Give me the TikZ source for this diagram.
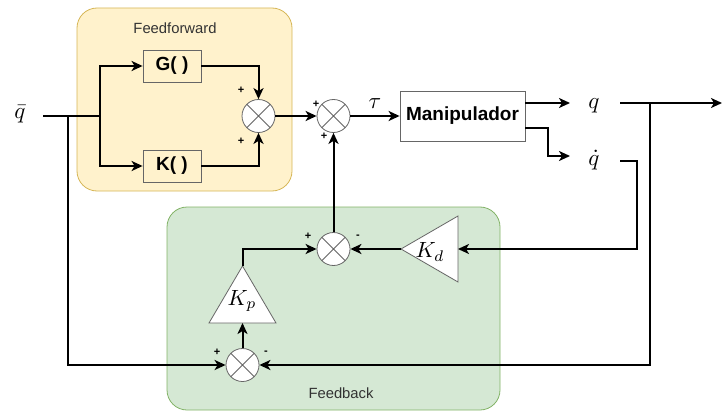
\documentclass[tikz,border=0pt]{standalone}
\usepackage{graphicx}
\usepackage{fontspec}
\setmainfont{Liberation Sans}
\usetikzlibrary{arrows.meta}

\definecolor{ffFill}{HTML}{FFF2CC}
\definecolor{ffLine}{HTML}{D6B656}
\definecolor{fbFill}{HTML}{D5E8D4}
\definecolor{fbLine}{HTML}{82B366}
\definecolor{edgeGray}{HTML}{666666}

% math symbols set at 10pt and scaled up to the label size
\newcommand{\biglbl}[2]{\scalebox{#1}{$#2$}}

\begin{document}
\begin{tikzpicture}[x=1pt,y=-1pt,
  wire/.style={line width=2pt, black},
  arr/.style={wire, -{Stealth[length=11pt,width=10pt,inset=3pt]}},
  sumnode/.style={circle, draw=edgeGray, line width=0.8pt, fill=white,
    minimum size=33pt, inner sep=0pt,
    path picture={\draw[edgeGray, line width=0.8pt]
      (path picture bounding box.south west) -- (path picture bounding box.north east)
      (path picture bounding box.north west) -- (path picture bounding box.south east);}},
  block/.style={draw=edgeGray, line width=0.8pt, inner sep=0pt,
    font=\fontsize{19}{22}\selectfont\bfseries},
  groupbox/.style={rounded corners=20pt, line width=0.8pt, inner sep=0pt},
  grouplabel/.style={font=\fontsize{14.8}{17}\selectfont, text=black!80},
  sign/.style={font=\fontsize{11}{12}\selectfont\bfseries, inner sep=0pt},
  mathlbl/.style={inner sep=0pt}
]
\useasboundingbox (0,0) rectangle (723,412);

% group backgrounds
\node[groupbox, draw=ffLine, fill=ffFill, minimum width=215pt, minimum height=183pt] (ff) at (184.5,99.5) {};
\node[groupbox, draw=fbLine, fill=fbFill, minimum width=333pt, minimum height=203pt] (fb) at (333.5,308.5) {};
\node[grouplabel] (fflbl) at (175,28) {Feedforward};
\node[grouplabel] (fblbl) at (341,393) {Feedback};

% feedforward blocks
\node[block, minimum width=58pt, minimum height=32pt] (G) at (172,66) {G( )};
\node[block, minimum width=58pt, minimum height=32pt] (K) at (172,166) {K( )};
\node[block, fill=white, minimum width=125pt, minimum height=50pt] (M) at (462.5,116) {Manipulador};

% summing junctions
\node[sumnode] (s1) at (258.5,116) {};
\node[sumnode] (s2) at (333.5,116) {};
\node[sumnode] (s3) at (333.5,249) {};
\node[sumnode] (s4) at (242.5,365) {};

% gain triangles
\draw[draw=edgeGray, line width=0.8pt, fill=white] (458,216) -- (458,282) -- (401,249) -- cycle;
\draw[draw=edgeGray, line width=0.8pt, fill=white] (209,323) -- (276,323) -- (242.5,266) -- cycle;
\coordinate (kdtip) at (401,249);
\coordinate (kdbase) at (458,249);
\coordinate (kptip) at (242.5,266);
\coordinate (kpbase) at (242.5,323);
\node[mathlbl] (kd) at (430,252) {\biglbl{2.2}{K_d}};
\node[mathlbl] (kp) at (242,301) {\biglbl{2.2}{K_p}};

% signal labels
\node[mathlbl] (qb) at (20,114) {\biglbl{2.3}{\bar q}};
\node[mathlbl] (tau) at (375,104) {\biglbl{2.3}{\tau}};
\node[mathlbl] (q) at (594,106) {\biglbl{2.3}{q}};
\node[mathlbl] (qd) at (594,160) {\biglbl{2.3}{\dot q}};

% signs
\node[sign] (p1a) at (241,90) {+};
\node[sign] (p1b) at (241,141) {+};
\node[sign] (p2a) at (316,104) {+};
\node[sign] (p2b) at (324,136) {+};
\node[sign] (p3a) at (308,236) {+};
\node[sign] (m3)  at (358,237) {-};
\node[sign] (p4a) at (217,352) {+};
\node[sign] (m4)  at (266,353) {-};

% wiring points
\coordinate (inL) at (43,116);
\coordinate (j1) at (68,116);
\coordinate (j2) at (100,116);
\coordinate (mq) at (525,103);
\coordinate (qin) at (570,103);
\coordinate (mqd) at (525,128);
\coordinate (kq) at (548,128);
\coordinate (qdin) at (570,156);
\coordinate (qout) at (620,103);
\coordinate (jr) at (650,103);
\coordinate (endR) at (722,103);
\coordinate (qdout) at (620,161);
\coordinate (qdx) at (637,249);

% feedforward path
\draw[wire] (inL) -- (j2);
\draw[arr] (j2) |- (G.west);
\draw[arr] (j2) |- (K.west);
\draw[arr] (G.east) -| (s1.north);
\draw[arr] (K.east) -| (s1.south);
\draw[arr] (s1) -- (s2);
\draw[arr] (s2) -- (M);

% plant outputs
\draw[arr] (mq) -- (qin);
\draw[arr] (mqd) -- (kq) |- (qdin);
\draw[arr] (qout) -- (endR);
\draw[arr] (jr) |- (s4.east);
\draw[arr] (qdout) -| (qdx) -- (kdbase);

% feedback path
\draw[arr] (j1) |- (s4.west);
\draw[arr] (s4.north) -- (kpbase);
\draw[arr] (kptip) |- (s3.west);
\draw[arr] (kdtip) -- (s3.east);
\draw[arr] (s3.north) -- (s2.south);
\end{tikzpicture}
\end{document}
